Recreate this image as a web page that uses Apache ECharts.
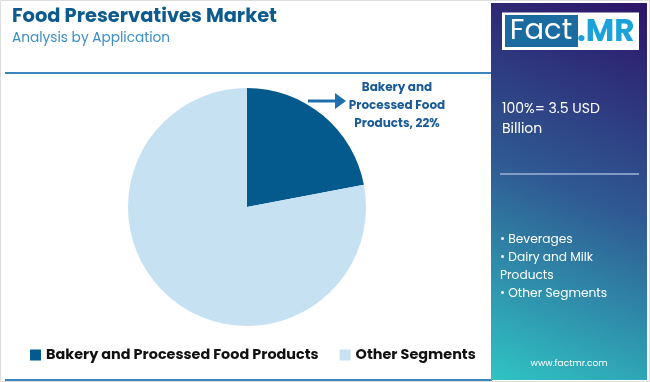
<!DOCTYPE html>
<html><head><meta charset="utf-8">
<script src="https://cdn.jsdelivr.net/npm/echarts@6/dist/echarts.min.js"></script>
<style>html,body{margin:0;padding:0;background:#fff}#c{width:650px;height:382px}</style>
</head><body><div id="c"></div>
<script>
const categories = ['Bakery and Processed Food Products', 'Other Segments'];
const shares = [22, 78];
const colors = ['#045a8d', '#c6e2f2'];
const panelLines = ['100%= 3.5 USD', 'Billion'];
const bulletLines = ['• Beverages', '• Dairy and Milk', 'Products', '• Other Segments'];

const chart = echarts.init(document.getElementById('c'));
const F = 'Poppins, Inter, "Open Sans", sans-serif';
chart.setOption({
  animation: false,
  color: colors,
  legend: {
    left: 25, top: 343, itemWidth: 11, itemHeight: 11, itemGap: 21,
    icon: 'rect',
    textStyle: { fontFamily: F, fontWeight: 'bold', fontSize: 14.4, color: '#111' },
    data: categories
  },
  series: [{
    type: 'pie', center: [247, 207], radius: 119, startAngle: 90, clockwise: true,
    label: { show: false }, labelLine: { show: false }, silent: true,
    data: categories.map((c, i) => ({ name: c, value: shares[i] }))
  }],
  graphic: [
    { type: 'rect', shape: { x: 0.5, y: 0.5, width: 649, height: 381 }, style: { fill: 'none', stroke: '#ddd', lineWidth: 1 } },
    { type: 'text', left: 12, top: 8, style: { text: 'Food Preservatives Market', font: 'bold 19.4px ' + F, fill: '#0d5a8e' } },
    { type: 'text', left: 12, top: 32, style: { text: 'Analysis by Application', font: '13.7px ' + F, fill: '#3c8fc7' } },
    { type: 'line', shape: { x1: 5, y1: 73, x2: 492, y2: 73 }, style: { stroke: '#3a86bd', lineWidth: 2 } },
    { type: 'line', shape: { x1: 5, y1: 380, x2: 492, y2: 380 }, style: { stroke: '#3a86bd', lineWidth: 2 } },
    { type: 'line', shape: { x1: 308, y1: 101, x2: 337, y2: 101 }, style: { stroke: '#1f6fae', lineWidth: 3 } },
    { type: 'polygon', shape: { points: [[335, 93], [346, 101], [335, 109]] }, style: { fill: '#1f6fae' } },
    { type: 'text', x: 397, y: 79, style: { text: 'Bakery and\nProcessed Food\nProducts, 22%', font: 'bold 12px ' + F, fill: '#1a5a96', align: 'center', lineHeight: 18 } },
    { type: 'rect', shape: { x: 491, y: 3, width: 156, height: 377 },
      style: { fill: new echarts.graphic.LinearGradient(1, 0, 0, 1, [
        { offset: 0, color: '#2d1468' }, { offset: 0.5, color: '#2f5a93' }, { offset: 1, color: '#2fc4c4' }]) } },
    { type: 'rect', shape: { x: 502, y: 12.5, width: 137, height: 37.5 }, style: { fill: '#fff' } },
    { type: 'rect', shape: { x: 505, y: 15, width: 73, height: 32 }, style: { fill: '#1b6aa0' } },
    { type: 'text', x: 541, y: 32, style: { text: 'Fact', font: '29px ' + F, fill: '#fff', align: 'center', verticalAlign: 'middle' } },
    { type: 'text', x: 577, y: 33, style: { text: '.MR', font: 'bold 31px ' + F, fill: '#1ba3d9', verticalAlign: 'middle' } },
    { type: 'text', left: 502, top: 99, style: { text: panelLines.join('\n'), font: '14px ' + F, fill: '#fff', lineHeight: 20 } },
    { type: 'line', shape: { x1: 500, y1: 174, x2: 639, y2: 174 }, style: { stroke: '#9fb3d6', lineWidth: 1.5 } },
    { type: 'text', left: 500, top: 231, style: { text: bulletLines.join('\n'), font: '12.2px ' + F, fill: '#fff', lineHeight: 18 } },
    { type: 'text', x: 569, y: 364, style: { text: 'www.factmr.com', font: '9px ' + F, fill: '#fff', align: 'center', verticalAlign: 'middle' } }
  ]
});
</script></body></html>
